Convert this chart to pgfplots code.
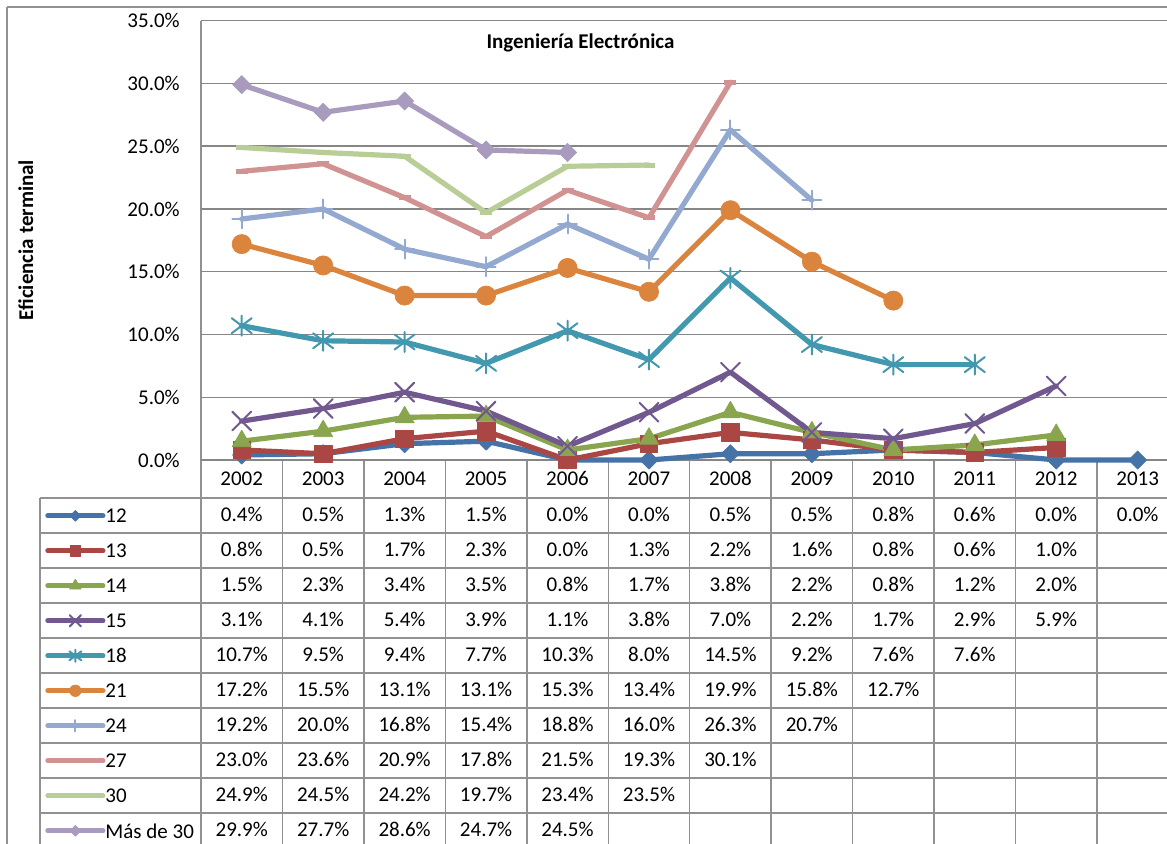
\documentclass[border=0pt]{standalone}
\usepackage{fontspec}
\setmainfont{Carlito}
\usepackage{pgfplots}
\pgfplotsset{compat=1.18}

\definecolor{cA}{RGB}{69,114,167}
\definecolor{cB}{RGB}{170,70,67}
\definecolor{cC}{RGB}{137,165,78}
\definecolor{cD}{RGB}{113,88,143}
\definecolor{cE}{RGB}{65,152,175}
\definecolor{cF}{RGB}{219,132,61}
\definecolor{cG}{RGB}{147,169,207}
\definecolor{cH}{RGB}{209,146,146}
\definecolor{cI}{RGB}{185,205,150}
\definecolor{cJ}{RGB}{169,155,189}
\definecolor{tblgray}{RGB}{145,145,145}
\definecolor{gridgray}{RGB}{134,134,134}

\pgfdeclareplotmark{xast}{%
  \pgfpathmoveto{\pgfqpoint{0pt}{\pgfplotmarksize}}%
  \pgfpathlineto{\pgfqpoint{0pt}{-\pgfplotmarksize}}%
  \pgfpathmoveto{\pgfqpoint{-\pgfplotmarksize}{-.75\pgfplotmarksize}}%
  \pgfpathlineto{\pgfqpoint{\pgfplotmarksize}{.75\pgfplotmarksize}}%
  \pgfpathmoveto{\pgfqpoint{-\pgfplotmarksize}{.75\pgfplotmarksize}}%
  \pgfpathlineto{\pgfqpoint{\pgfplotmarksize}{-.75\pgfplotmarksize}}%
  \pgfusepathqstroke}

\tikzset{tbl/.style={line width=1.1pt, draw=tblgray}}

\begin{document}
\fontsize{15.75}{18}\selectfont
\begin{tikzpicture}[x=0.75pt,y=0.75pt]
\clip (0,0) rectangle (1167,-843);
% outer frame
\draw[tbl] (7,-7) -- (1190,-7);
\draw[tbl] (7,-7) -- (7,-860);
% data table grid
\draw[tbl] (201,-20.7) -- (201,-860);
\foreach \k in {1,...,12} \draw[tbl] ({201+81.45*\k},-460) -- ({201+81.45*\k},-860);
\draw[tbl] (40,-498) -- (40,-860);
\draw[tbl] (201,-460) -- (1190,-460);
\foreach \r in {0,...,10} \draw[tbl] (40,{-498-35*\r}) -- (1190,{-498-35*\r});
% header years
\foreach \yr [count=\c from 0] in {2002,2003,2004,2005,2006,2007,2008,2009,2010,2011,2012,2013}
  \node[inner sep=0pt, anchor=base] at ({201+81.45*(\c+0.5)},-485.5) {\yr};
% values
\foreach \vals [count=\r from 0] in {
 {0.4,0.5,1.3,1.5,0.0,0.0,0.5,0.5,0.8,0.6,0.0,0.0},
 {0.8,0.5,1.7,2.3,0.0,1.3,2.2,1.6,0.8,0.6,1.0},
 {1.5,2.3,3.4,3.5,0.8,1.7,3.8,2.2,0.8,1.2,2.0},
 {3.1,4.1,5.4,3.9,1.1,3.8,7.0,2.2,1.7,2.9,5.9},
 {10.7,9.5,9.4,7.7,10.3,8.0,14.5,9.2,7.6,7.6},
 {17.2,15.5,13.1,13.1,15.3,13.4,19.9,15.8,12.7},
 {19.2,20.0,16.8,15.4,18.8,16.0,26.3,20.7},
 {23.0,23.6,20.9,17.8,21.5,19.3,30.1},
 {24.9,24.5,24.2,19.7,23.4,23.5},
 {29.9,27.7,28.6,24.7,24.5}}{
  \foreach \v [count=\c from 0] in \vals {
    \node[inner sep=0pt, anchor=base] at ({201+81.45*(\c+0.5)},{-(498+35*(\r+0.5)+6.3)}) {\v\%};
  }
}

\begin{axis}[
  at={(150.75pt,-345pt)}, anchor=south west,
  scale only axis, width=733.05pt, height=329.5pt,
  xmin=-0.5, xmax=11.5, ymin=0, ymax=35,
  clip=false,
  axis line style={draw=none},
  xtick=\empty,
  ytick={0,5,10,15,20,25,30,35},
  ymajorgrids, grid style={line width=1.1pt, draw=gridgray},
  major tick length=0pt,
  /pgf/number format/assume math mode=true,
  yticklabel={\pgfmathprintnumber[fixed,fixed zerofill,precision=1]{\tick}\%},
  yticklabel style={anchor=east, inner sep=0pt, xshift=-15.75pt},
  every axis plot/.append style={line width=3.9pt, line join=round, line cap=round},
  legend cell align=left,
  legend style={at={(-0.1596,-0.0865)}, anchor=north west, draw=none, fill=none,
    inner sep=0pt, row sep=0pt, column sep=0pt,
    nodes={inner sep=0pt, minimum height=26.25pt, text depth=0pt}},
  legend image code/.code={%
    \draw[mark repeat=2,mark phase=2,#1, every mark/.append style={scale=0.6}]
      plot coordinates {(0pt,0pt) (20.625pt,0pt) (41.25pt,0pt)};},
]
\addplot[cA, mark=square*, mark size=4.8pt, mark options={rotate=45, solid, fill=cA, draw=cA, line width=0.5pt}]
 coordinates {(0,0.4) (1,0.5) (2,1.3) (3,1.5) (4,0.0) (5,0.0) (6,0.5) (7,0.5) (8,0.8) (9,0.6) (10,0.0) (11,0.0)};
\addplot[cB, mark=square*, mark size=6.6pt, mark options={solid, fill=cB, draw=cB, line width=0.5pt}]
 coordinates {(0,0.8) (1,0.5) (2,1.7) (3,2.3) (4,0.0) (5,1.3) (6,2.2) (7,1.6) (8,0.8) (9,0.6) (10,1.0)};
\addplot[cC, mark=triangle*, mark size=8.3pt, mark options={solid, fill=cC, draw=cC, line width=0.5pt}]
 coordinates {(0,1.5) (1,2.3) (2,3.4) (3,3.5) (4,0.8) (5,1.7) (6,3.8) (7,2.2) (8,0.8) (9,1.2) (10,2.0)};
\addplot[cD, mark=x, mark size=10pt, mark options={solid, draw=cD, line width=1.5pt}]
 coordinates {(0,3.1) (1,4.1) (2,5.4) (3,3.9) (4,1.1) (5,3.8) (6,7.0) (7,2.2) (8,1.7) (9,2.9) (10,5.9)};
\addplot[cE, mark=xast, mark size=7.5pt, mark options={solid, draw=cE, line width=1.5pt}]
 coordinates {(0,10.7) (1,9.5) (2,9.4) (3,7.7) (4,10.3) (5,8.0) (6,14.5) (7,9.2) (8,7.6) (9,7.6)};
\addplot[cF, mark=*, mark size=7.2pt, mark options={solid, fill=cF, draw=cF, line width=0.5pt}]
 coordinates {(0,17.2) (1,15.5) (2,13.1) (3,13.1) (4,15.3) (5,13.4) (6,19.9) (7,15.8) (8,12.7)};
\addplot[cG, mark=+, mark size=7.1pt, mark options={solid, draw=cG, line width=1.5pt}]
 coordinates {(0,19.2) (1,20.0) (2,16.8) (3,15.4) (4,18.8) (5,16.0) (6,26.3) (7,20.7)};
\addplot[cH, mark=-, mark size=4.5pt, mark options={solid, draw=cH, line width=3.75pt, line cap=butt}]
 coordinates {(0,23.0) (1,23.6) (2,20.9) (3,17.8) (4,21.5) (5,19.3) (6,30.1)};
\addplot[cI, mark=-, mark size=4.5pt, mark options={solid, draw=cI, line width=3.75pt, line cap=butt}]
 coordinates {(0,24.9) (1,24.5) (2,24.2) (3,19.7) (4,23.4) (5,23.5)};
\addplot[cJ, mark=square*, mark size=4.8pt, mark options={rotate=45, solid, fill=cJ, draw=cJ, line width=0.5pt}]
 coordinates {(0,29.9) (1,27.7) (2,28.6) (3,24.7) (4,24.5)};
\legend{12,13,14,15,18,21,24,27,30,Más de 30}
\end{axis}

\node[anchor=base, font=\bfseries] at (580.5,-48.3) {Ingeniería Electrónica};
\node[anchor=base, rotate=90, font=\bfseries] at (33,-240) {Eficiencia terminal};
\end{tikzpicture}
\end{document}
